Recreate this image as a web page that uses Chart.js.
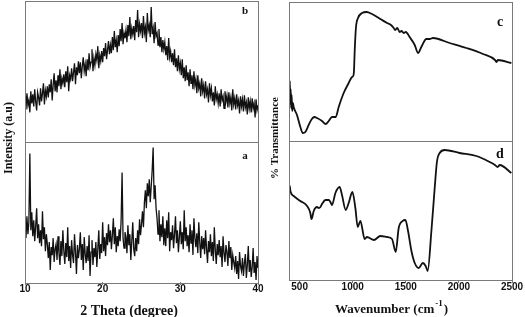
<!DOCTYPE html>
<html><head><meta charset="utf-8">
<script src="https://cdn.jsdelivr.net/npm/chart.js@4.4.0/dist/chart.umd.min.js"></script>
<style>html,body{margin:0;padding:0;background:#fff;overflow:hidden}
#wrap{position:relative;width:525px;height:317px;background:#fff}
canvas{position:absolute;left:0;top:0}</style></head>
<body><div id="wrap"><canvas id="xrd" width="525" height="317"></canvas><canvas id="ftir" width="525" height="317"></canvas></div>
<script>
// ---- XRD (2 theta sampled every 0.125 degree from 10 to 40) ----
const xrdStart = 10, xrdStep = 0.125;
const xrdTicks = [10, 20, 30, 40];
const xrdB = [
45,32,48,36,41,29,50,38, 47,35,52,40,31,49,44,36, 53,40,48,58,37,51,45,55, 44,57,49,62,41,56,68,50,
61,49,66,55,72,52,63,58, 67,54,70,59,75,50,66,62, 73,60,69,78,57,74,66,80, 68,79,63,75,84,70,77,65,
82,71,88,74,79,92,70,83, 76,87,81,95,73,86,80,90, 79,93,85,98,82,91,100,87, 96,88,104,91,110,94,101,89,
106,95,112,100,118,97,108,103, 111,99,116,105,124,102,113,107, 115,101,121,109,131,104,117,110, 118,103,125,108,114,99,128,111,
116,104,134,107,113,98,119,105, 108,96,112,94,104,89,101,92, 99,86,95,81,103,84,90,79, 88,76,92,74,83,70,86,72,
78,66,82,63,74,60,76,61, 69,55,72,58,66,52,70,56, 62,48,66,53,58,45,63,50, 56,43,60,47,52,39,58,46,
53,40,49,36,55,42,47,38, 48,35,52,41,45,33,50,40, 46,34,49,38,44,31,52,37, 43,32,47,36,41,28,45,35,
42,30,46,34,39,27,44,33, 40,29,43,33,38,24,42,31, 36];
const xrdA = [
58,44,66,48,60,129,52,70, 46,62,41,56,74,44,58,39, 52,36,71,43,55,31,48,38, 24,40,12,35,27,44,20,33,
38,22,46,29,17,41,26,52, 31,18,39,25,55,21,36,14, 42,27,19,48,30,8,37,24, 33,50,22,38,12,45,28,19,
36,21,47,6,30,42,17,34, 25,40,15,33,52,23,38,29, 60,31,45,26,49,37,58,40, 52,33,47,64,38,55,30,46,
36,53,41,62,110,44,34,50, 45,29,57,37,48,22,41,60, 33,26,44,31,52,38,63,47, 58,71,55,80,92,74,99,86,
103,80,96,112,135,83,97,74, 64,48,72,41,58,45,66,37, 54,36,62,44,70,31,50,42, 57,34,48,66,39,52,30,45,
61,38,50,33,72,41,55,36, 47,30,58,39,52,27,64,44, 35,49,29,60,40,24,46,33, 44,28,52,33,19,41,30,48,
26,40,21,55,32,18,38,27, 42,25,36,15,46,29,20,37, 30,16,41,24,35,12,27,20, 14,26,8,21,3,30,16,11,
24,6,19,28,4,17,36,10, 22,5,15,34,9,20,2,26, 14];

// ---- FTIR ----
const ftirTicks = [500, 1000, 1500, 2000, 2500];
const ftirCWave = [400,404,408,412,416,420,425,430,437,444,475,507,530,554,585,615,640,664,711,745,774,805,840,868,915,962,993,1005,1012,1019,1031,1050,1088,1130,1181,1260,1323,1360,1386,1400,1420,1442,1460,1480,1500,1536,1584,1615,1646,1694,1725,1756,1913,2070,2227,2340,2353,2366,2494];
const ftirC     = [54,40,60,37,52,33,46,30,38,34,26,14,8,9,16,22,24,23,20,17,20,24,24,34,48,58,64,65,70,91,114,123,128,129,127,122,118,116,113,111,113,109,110,108,109,104,96,88,94,102,102,103,98,93,87,81,79,81,78];
const ftirDWave = [400,404,408,413,444,507,570,601,611,617,633,664,680,696,711,743,774,790,805,837,877,899,934,962,997,1025,1047,1072,1113,1134,1200,1260,1323,1370,1405,1433,1470,1496,1521,1553,1584,1622,1660,1687,1706,1741,1772,1794,1819,1866,2007,2164,2290,2340,2365,2384,2494];
const ftirD     = [97,88,94,89,84,79,74,67,61,62,69,73,72,73,76,80,80,78,75,87,93,85,70,77,88,72,53,59,41,43,40,44,43,41,28,52,59,60,49,29,17,12,17,14,9,49,92,119,127,130,127,124,118,115,113,115,107];

const txt = '#111';
const framePlugin = {
  id: 'frame',
  afterDraw(chart, args, opts) {
    const ctx = chart.ctx, ca = chart.chartArea;
    ctx.save();
    ctx.strokeStyle = '#7a7a7a'; ctx.lineWidth = 1;
    for (const id of opts.axes) {
      const s = chart.scales[id];
      ctx.strokeRect(Math.round(ca.left) + 0.5, Math.round(s.top) + 0.5, Math.round(ca.right - ca.left), Math.round(s.bottom - s.top));
    }
    ctx.fillStyle = txt;
    for (const t of opts.texts) {
      ctx.save();
      ctx.font = t.font;
      ctx.textAlign = t.align || 'center';
      ctx.textBaseline = 'alphabetic';
      ctx.translate(t.x, t.y);
      if (t.rot) ctx.rotate(t.rot);
      if (t.sup) {
        ctx.textAlign = 'left';
        const w = ctx.measureText(t.text).width;
        ctx.fillText(t.text, 0, 0);
        ctx.font = t.supFont;
        ctx.fillText(t.sup, w + 1, -7);
        const w2 = ctx.measureText(t.sup).width;
        ctx.font = t.font;
        ctx.fillText(t.tail, w + 2 + w2, 0);
      } else {
        ctx.fillText(t.text, 0, 0);
      }
      ctx.restore();
    }
    ctx.restore();
  }
};

function yStack(max, w) {
  return { type: 'linear', min: 0, max: max, stack: 'panels', stackWeight: 1, position: 'left',
    ticks: { display: false }, grid: { display: false }, border: { display: false },
    afterFit: ax => { ax.width = w; } };
}
function xAxis(min, max, tickVals, h) {
  return { type: 'linear', min: min, max: max,
    afterBuildTicks: ax => { ax.ticks = tickVals.map(v => ({ value: v })); },
    afterFit: ax => { ax.height = h; },
    grid: { display: true, drawOnChartArea: false, drawTicks: true, tickLength: 3, color: '#7a7a7a' },
    border: { display: false },
    ticks: { font: { family: 'Liberation Sans', weight: 'bold', size: 10 }, color: txt, padding: -2, maxRotation: 0, autoSkip: false,
      callback: v => String(v) } };
}

const serifB = s => 'bold ' + s + 'px "Liberation Serif"';

// Left: XRD (first stacked axis defined is drawn at the bottom)
new Chart(document.getElementById('xrd'), {
  type: 'line',
  data: { datasets: [
    { data: xrdB.map((v, i) => ({ x: xrdStart + i * xrdStep, y: v })), yAxisID: 'yB', borderColor: '#111', borderWidth: 1.3, pointRadius: 0, tension: 0 },
    { data: xrdA.map((v, i) => ({ x: xrdStart + i * xrdStep, y: v })), yAxisID: 'yA', borderColor: '#111', borderWidth: 1.3, pointRadius: 0, tension: 0 }
  ] },
  options: {
    responsive: false, animation: false,
    layout: { padding: { left: 0, right: 267, top: 1, bottom: 0 } },
    plugins: { legend: { display: false }, tooltip: { enabled: false },
      frame: { axes: ['yB', 'yA'], texts: [
        { text: 'b', x: 245, y: 14, font: serifB(11) },
        { text: 'a', x: 245, y: 159, font: serifB(11) },
        { text: 'Intensity (a.u)', x: 12, y: 138, rot: -Math.PI / 2, font: serifB(12) },
        { text: '2 Theta (degree)', x: 129, y: 315, font: serifB(14) }
      ] } },
    scales: { x: xAxis(10, 40, xrdTicks, 35), yA: yStack(141, 25), yB: yStack(140, 25) }
  },
  plugins: [framePlugin]
});

// Right: FTIR
new Chart(document.getElementById('ftir'), {
  type: 'line',
  data: { datasets: [
    { data: ftirCWave.map((w, i) => ({ x: w, y: ftirC[i] })), yAxisID: 'yC', borderColor: '#111', borderWidth: 1.8, pointRadius: 0, cubicInterpolationMode: 'monotone' },
    { data: ftirDWave.map((w, i) => ({ x: w, y: ftirD[i] })), yAxisID: 'yD', borderColor: '#111', borderWidth: 1.8, pointRadius: 0, cubicInterpolationMode: 'monotone' }
  ] },
  options: {
    responsive: false, animation: false,
    layout: { padding: { left: 279, right: 13, top: 2, bottom: 0 } },
    plugins: { legend: { display: false }, tooltip: { enabled: false },
      frame: { axes: ['yC', 'yD'], texts: [
        { text: 'c', x: 500, y: 26, font: serifB(14) },
        { text: 'd', x: 500, y: 158, font: serifB(14) },
        { text: '% Transmittance', x: 278, y: 138, rot: -Math.PI / 2, font: serifB(11) },
        { text: 'Wavenumber (cm', x: 335, y: 313, font: serifB(13), sup: '-1', supFont: serifB(9), tail: ')' }
      ] } },
    scales: { x: xAxis(400, 2500, ftirTicks, 37), yD: yStack(139, 10), yC: yStack(139, 10) }
  },
  plugins: [framePlugin]
});
</script></body></html>
